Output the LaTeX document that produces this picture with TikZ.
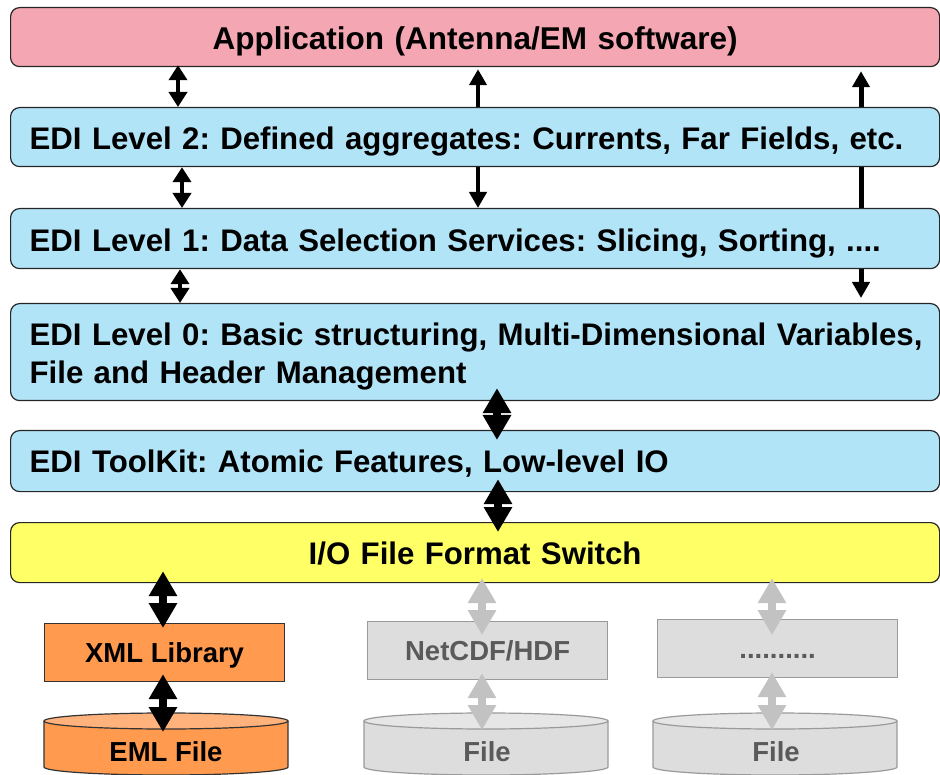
\documentclass[tikz,border=0pt]{standalone}
\usepackage{fontspec}
\setmainfont{Liberation Sans}
\usetikzlibrary{arrows.meta,calc}

\definecolor{apppink}{HTML}{F4A6B2}
\definecolor{layerblue}{HTML}{B2E4F8}
\definecolor{switchyellow}{HTML}{FFFF66}
\definecolor{liborange}{HTML}{FF9A4E}
\definecolor{libtop}{HTML}{FFB27C}
\definecolor{offfill}{HTML}{DDDDDD}
\definecolor{offtop}{HTML}{E6E6E6}
\definecolor{offline}{HTML}{9A9A9A}
\definecolor{offtext}{HTML}{5A5A5A}
\definecolor{offarrow}{HTML}{C2C2C2}

\pgfdeclarelayer{back}
\pgfsetlayers{back,main}

% drum (file store): name, centre x, half width, body fill, top fill, outline
\newcommand\drum[6]{%
  \filldraw[fill=#4, draw=#6, line width=1.2pt]
    (#2-#3,721) -- (#2-#3,767)
    arc[start angle=180, end angle=360, x radius=#3pt, y radius=8pt]
    -- (#2+#3,721);
  \filldraw[fill=#5, draw=#6, line width=1.2pt]
    (#2,721) ellipse[x radius=#3pt, y radius=8pt];
  \coordinate (#1) at (#2,721);
}

\begin{document}
\frenchspacing
\begin{tikzpicture}[x=1pt, y=-1pt,
  layer/.style={draw=black!85, line width=1.2pt, rounded corners=9pt,
    anchor=north west, inner xsep=19pt, inner ysep=0pt,
    text width=891pt, align=left, minimum width=929pt,
    text height=25pt, text depth=0pt,
    font=\fontsize{31.2pt}{38pt}\selectfont\bfseries\frenchspacing},
  lib/.style={rectangle, line width=1.2pt, anchor=north west,
    minimum width=240pt, minimum height=58pt, inner sep=0pt,
    text height=20pt, text depth=0pt,
    font=\fontsize{27.5pt}{33pt}\selectfont\bfseries},
  drumtext/.style={inner sep=0pt, text height=20pt, text depth=0pt,
    font=\fontsize{27.5pt}{33pt}\selectfont\bfseries},
  smallarr/.style={line width=4pt, >={Triangle[width=18pt,length=15pt]}, <->},
  midarr/.style={line width=4.5pt, >={Triangle[width=17pt,length=16pt]}, <->},
  bigarr/.style={line width=8pt, >={Triangle[width=27pt,length=25pt]}, <->},
  grayarr/.style={bigarr, color=offarrow}]

\useasboundingbox (0,0) rectangle (940,775);

% software layers
\node[layer, fill=apppink, align=center, minimum height=59pt,
  font=\fontsize{31.5pt}{38pt}\selectfont\bfseries] (app) at (10,7)
  {Application (Antenna/EM software)};
\node[layer, fill=layerblue, minimum height=59pt] (l2) at (10,107)
  {\mbox{EDI Level 2: Defined aggregates: Currents, Far Fields, etc.}};
\node[layer, fill=layerblue, minimum height=60pt] (l1) at (10,208)
  {\mbox{EDI Level 1: Data Selection Services: Slicing, Sorting, ....}};
\node[layer, fill=layerblue, minimum height=97pt, text depth=37.6pt] (l0) at (10,303)
  {\mbox{EDI Level 0: Basic structuring, Multi-Dimensional Variables,}\\File and Header Management};
\node[layer, fill=layerblue, minimum height=61pt, text height=23.5pt] (tk) at (10,430)
  {EDI ToolKit: Atomic Features, Low-level IO};
\node[layer, fill=switchyellow, align=center, minimum height=60pt, text height=23.5pt] (sw) at (10,522)
  {I/O File Format Switch};

% format libraries
\node[lib, fill=liborange, draw=black!80] (xml) at (44,623) {XML Library};
\node[lib, fill=offfill, draw=offline, text=offtext] (net) at (367,621) {NetCDF/HDF};
\node[lib, fill=offfill, draw=offline, text=offtext] (dots) at (657,619) {..........};

% file stores
\drum{emltop}{166}{122}{liborange}{libtop}{black!80}
\drum{fileAtop}{486}{122}{offfill}{offtop}{offline}
\drum{fileBtop}{775}{122}{offfill}{offtop}{offline}
\node[drumtext] (eml) at (166,751) {EML File};
\node[drumtext, text=offtext] (fileA) at (487,751) {File};
\node[drumtext, text=offtext] (fileB) at (776,751) {File};

% vertical positions of the connectors
\coordinate (cA) at (178,0);
\coordinate (cB) at (182,0);
\coordinate (cC) at (180,0);
\coordinate (cM) at (478,0);
\coordinate (cR) at (861,0);
\coordinate (cK) at (497,0);
\coordinate (cS) at (498,0);
\coordinate (cX) at (163,0);
\coordinate (cG) at (482,0);
\coordinate (cH) at (772,0);

% long connectors running behind the layers
\begin{pgfonlayer}{back}
  \draw[midarr] ($(app.south -| cM)+(0,2)$) -- (l1.north -| cM);
  \draw[midarr, line width=5pt] ($(app.south -| cR)+(0,4)$) -- ($(l0.north -| cR)+(0,-5)$);
\end{pgfonlayer}

% short connectors between neighbouring layers
\draw[smallarr] ($(app.south -| cA)+(0,-2)$) -- (l2.north -| cA);
\draw[smallarr] (l2.south -| cB) -- (l1.north -| cB);
\draw[smallarr] (l1.south -| cC) -- (l0.north -| cC);

\draw[bigarr] ($(l0.south -| cK)+(0,-13)$) -- ($(tk.north -| cK)+(0,10)$);
\draw[bigarr] ($(tk.south -| cS)+(0,-13)$) -- ($(sw.north -| cS)+(0,10)$);
\draw[bigarr] ($(sw.south -| cX)+(0,-12)$) -- ($(xml.north -| cX)+(0,5)$);
\draw[bigarr] ($(xml.south -| cX)+(0,-8)$) -- ($(emltop -| cX)+(0,11)$);

\draw[grayarr] ($(sw.south -| cG)+(0,-5)$) -- ($(net.north -| cG)+(0,14)$);
\draw[grayarr] ($(net.south -| cG)+(0,-7)$) -- ($(fileAtop -| cG)+(0,9)$);
\draw[grayarr] ($(sw.south -| cH)+(0,-5)$) -- ($(dots.north -| cH)+(0,16)$);
\draw[grayarr] ($(dots.south -| cH)+(0,-6)$) -- ($(fileBtop -| cH)+(0,9)$);

\end{tikzpicture}
\end{document}
